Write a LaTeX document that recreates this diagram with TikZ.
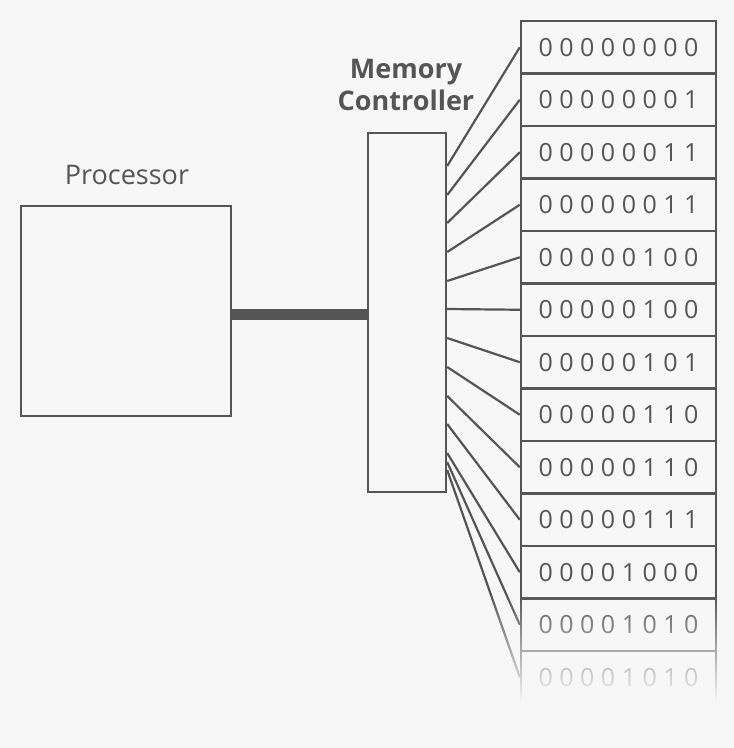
\documentclass[tikz,border=0pt]{standalone}
\usepackage{fontspec}
\setmainfont{Open Sans}
\usetikzlibrary{fadings}
\definecolor{mygray}{RGB}{85,85,85}
\definecolor{mybg}{RGB}{247,247,247}
\tikzfading[name=fade down, top color=transparent!100, bottom color=transparent!0]

\begin{document}
\begin{tikzpicture}[x=1pt,y=-1pt,
    box/.style={draw=mygray,line width=2.4pt,fill=mybg,inner sep=0pt},
    cell/.style={box,minimum width=195pt,minimum height=52.5pt,text=mygray,font=\fontsize{25}{30}\selectfont},
    wire/.style={draw=mygray,line width=2.2pt},
    bus/.style={draw=mygray,line width=11pt}]
            \fill[mybg] (0,0) rectangle (734,748);
            \useasboundingbox (0,0) rectangle (734,748);
            \node[box,minimum width=210pt,minimum height=210pt] (proc) at (126,311) {};
            \node[text=mygray,font=\fontsize{27}{32}\selectfont] (proclabel) at (127,175) {Processor};
            \node[box,minimum width=78pt,minimum height=359pt] (mc) at (407,312.5) {};
            \node[text=mygray,font=\fontsize{27}{32}\selectfont\bfseries,align=center] (mclabel) at (406,85) {Memory\\Controller};
            \path (proc.east) ++(0,3) coordinate (busstart);
            \draw[bus] (busstart) -- (busstart -| mc.west);
            \foreach \y [count=\i] in {166,195,223,252,281,309,338,367,396,424,453,462,470}
                \coordinate (w\i) at (mc.east |- 0,\y);
            \foreach \bits [count=\i] in {0 0 0 0 0 0 0 0,0 0 0 0 0 0 0 1,0 0 0 0 0 0 1 1,0 0 0 0 0 0 1 1,0 0 0 0 0 1 0 0,0 0 0 0 0 1 0 0,0 0 0 0 0 1 0 1,0 0 0 0 0 1 1 0,0 0 0 0 0 1 1 0,0 0 0 0 0 1 1 1,0 0 0 0 1 0 0 0,0 0 0 0 1 0 1 0,0 0 0 0 1 0 1 0}
                \node[cell] (cell\i) at (618.5,{21+52.5*(\i-0.5)}) {\bits};
            \foreach \i in {1,...,13}
                \draw[wire] (w\i) -- (cell\i.west);
            \fill[mybg,path fading=fade down] (440,594) rectangle (725,702);
            \fill[mybg] (440,701) rectangle (725,712);
        \end{tikzpicture}
\end{document}
